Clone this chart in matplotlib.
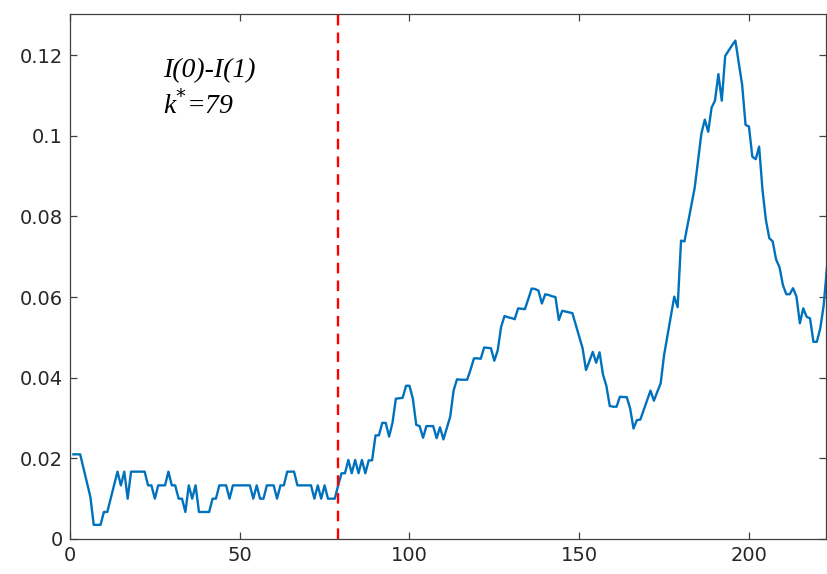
import matplotlib
matplotlib.use("Agg")
import matplotlib.pyplot as plt
import numpy as np

k_values = list(range(1, 224))
diff_values = [
    0.021, 0.021, 0.021, 0.0175, 0.014, 0.0105, 0.0035, 0.0035, 0.0035, 0.0067,
    0.0067, 0.01, 0.0133, 0.0167, 0.0133, 0.0167, 0.01, 0.0167, 0.0167, 0.0167,
    0.0167, 0.0167, 0.0133, 0.0133, 0.01, 0.0133, 0.0133, 0.0133, 0.0167, 0.0133,
    0.0133, 0.01, 0.01, 0.0067, 0.0133, 0.01, 0.0133, 0.0067, 0.0067, 0.0067,
    0.0067, 0.01, 0.01, 0.0133, 0.0133, 0.0133, 0.01, 0.0133, 0.0133, 0.0133,
    0.0133, 0.0133, 0.0133, 0.01, 0.0133, 0.01, 0.01, 0.0133, 0.0133, 0.0133,
    0.01, 0.0133, 0.0133, 0.0167, 0.0167, 0.0167, 0.0133, 0.0133, 0.0133, 0.0133,
    0.0133, 0.01, 0.0133, 0.01, 0.0133, 0.01, 0.01, 0.01, 0.0133, 0.0163,
    0.0163, 0.0196, 0.0163, 0.0196, 0.0163, 0.0196, 0.0163, 0.0195, 0.0195, 0.0257,
    0.0257, 0.0288, 0.0288, 0.0254, 0.0288, 0.0348, 0.0349, 0.035, 0.038, 0.038,
    0.0348, 0.0283, 0.028, 0.0251, 0.028, 0.028, 0.028, 0.025, 0.0277, 0.0247,
    0.0275, 0.0303, 0.0368, 0.0396, 0.0395, 0.0395, 0.0395, 0.042, 0.0448, 0.0448,
    0.0447, 0.0475, 0.0474, 0.0473, 0.0442, 0.0468, 0.0526, 0.0553, 0.055, 0.0548,
    0.0545, 0.0572, 0.0571, 0.057, 0.0595, 0.0621, 0.062, 0.0616, 0.0584, 0.0607,
    0.0605, 0.0602, 0.06, 0.0543, 0.0566, 0.0564, 0.0562, 0.056, 0.0531, 0.0502,
    0.0473, 0.0419, 0.0441, 0.0464, 0.0437, 0.0463, 0.0408, 0.038, 0.033, 0.0328,
    0.0328, 0.0353, 0.0352, 0.0352, 0.0324, 0.0274, 0.0295, 0.0296, 0.032, 0.0344,
    0.0368, 0.0343, 0.0365, 0.0386, 0.0456, 0.0504, 0.0552, 0.0601, 0.0575, 0.074,
    0.0738, 0.0782, 0.0826, 0.087, 0.0938, 0.1006, 0.104, 0.101, 0.107, 0.1087,
    0.1153, 0.1087, 0.1198, 0.1211, 0.1224, 0.1236, 0.1181, 0.1126, 0.1027, 0.1023,
    0.0948, 0.0942, 0.0973, 0.0865, 0.0791, 0.0746, 0.0738, 0.0693, 0.0674, 0.063,
    0.0607, 0.0607, 0.0622, 0.0601, 0.0535, 0.0572, 0.0551, 0.0547, 0.0489, 0.0489,
    0.0522, 0.0578, 0.0675,
]
change_point = 79
x_ticks = [0, 50, 100, 150, 200]
y_ticks = [0, 0.02, 0.04, 0.06, 0.08, 0.1, 0.12]
y_tick_labels = ["0", "0.02", "0.04", "0.06", "0.08", "0.1", "0.12"]

fig = plt.figure(figsize=(8.27, 5.74), dpi=100)
ax = fig.add_axes([0.0846, 0.061, 0.9142, 0.9146])

ax.plot(k_values, diff_values, color="#0072BD", lw=1.7, clip_on=True)
ax.axvline(change_point, color="red", lw=1.7, linestyle=(0, (4.5, 3)))

ax.set_xlim(0, 222.7)
ax.set_ylim(0, 0.1302)
ax.set_xticks(x_ticks)
ax.set_yticks(y_ticks)
ax.set_yticklabels(y_tick_labels)

axis_col = "#404040"
for s in ax.spines.values():
    s.set_color(axis_col)
    s.set_linewidth(0.9)
ax.tick_params(direction="in", length=5, width=0.9, color=axis_col,
               top=True, right=True, labelsize=14, labelcolor="#262626", pad=5)
for lab in ax.get_xticklabels() + ax.get_yticklabels():
    lab.set_family("DejaVu Sans")

ax.text(27.5, 0.1162, "I(0)-I(1)", fontsize=20, family="Liberation Serif",
        style="italic", va="center", ha="left")
ax.text(27.5, 0.1075, r"k$^{*}$=79", fontsize=20, family="Liberation Serif",
        style="italic", va="center", ha="left")

fig.savefig("out.png", dpi=100)
